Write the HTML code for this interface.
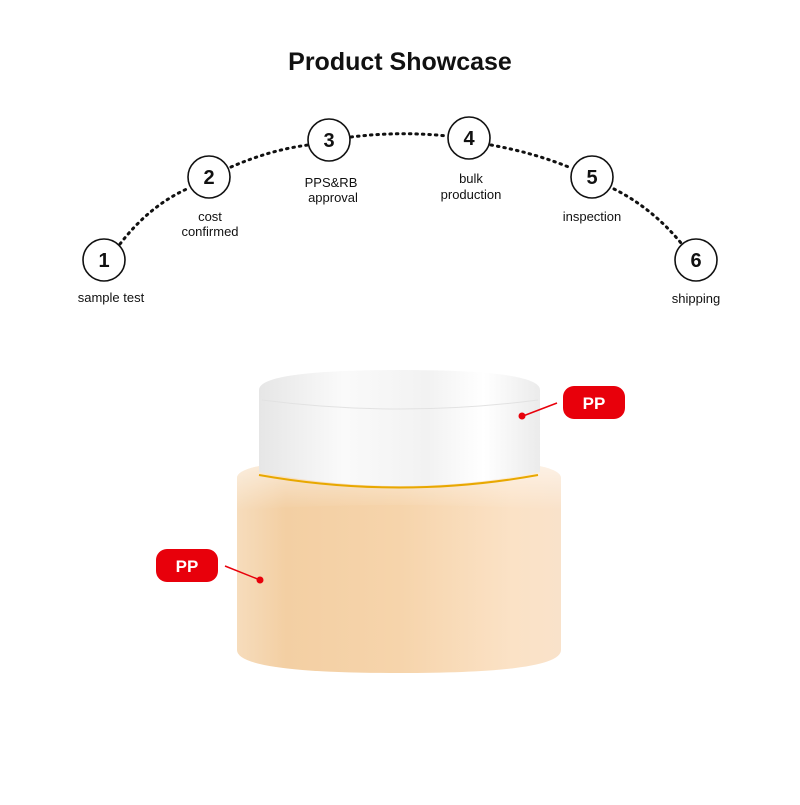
<!DOCTYPE html>
<html><head><style>
body{margin:0;width:800px;height:800px;background:#fff;overflow:hidden;font-family:"Liberation Sans",Arial,sans-serif}
</style></head><body>
<svg width="800" height="800" viewBox="0 0 800 800" xmlns="http://www.w3.org/2000/svg">
<defs>
<linearGradient id="body" x1="0" x2="1">
<stop offset="0" stop-color="#f6dcbc"/><stop offset="0.15" stop-color="#f3cfa3"/><stop offset="0.5" stop-color="#f6d4ab"/><stop offset="0.85" stop-color="#fbe2c6"/><stop offset="1" stop-color="#f9e2ca"/>
</linearGradient>
<linearGradient id="rim" x1="0" y1="0" x2="0" y2="1">
<stop offset="0" stop-color="#fff" stop-opacity="0.6"/><stop offset="1" stop-color="#fff" stop-opacity="0"/>
</linearGradient>
<linearGradient id="lid" x1="0" x2="1">
<stop offset="0" stop-color="#e6e6e6"/><stop offset="0.3" stop-color="#fafafa"/><stop offset="0.6" stop-color="#f2f2f2"/><stop offset="0.8" stop-color="#fff"/><stop offset="1" stop-color="#ebebeb"/>
</linearGradient>
</defs>
<text x="400" y="70" text-anchor="middle" font-size="25" font-weight="bold" fill="#111">Product Showcase</text>
<g fill="none" stroke="#111" stroke-width="3" stroke-dasharray="1.5 5" stroke-linecap="round">
<path d="M120 244 Q150 205 189 188"/>
<path d="M231 167 Q270 150 308 145"/>
<path d="M351 137 Q400 131 447 136"/>
<path d="M491 145 Q535 153 571 168"/>
<path d="M614 189 Q652 208 681 243"/>
</g>
<g fill="#fff" stroke="#111" stroke-width="1.6">
<circle cx="104" cy="260" r="21"/><circle cx="209" cy="177" r="21"/><circle cx="329" cy="140" r="21"/>
<circle cx="469" cy="138" r="21"/><circle cx="592" cy="177" r="21"/><circle cx="696" cy="260" r="21"/>
</g>
<g font-size="20" font-weight="bold" text-anchor="middle" fill="#111">
<text x="104" y="267">1</text><text x="209" y="184">2</text><text x="329" y="147">3</text>
<text x="469" y="145">4</text><text x="592" y="184">5</text><text x="696" y="267">6</text>
</g>
<g font-size="13" text-anchor="middle" fill="#111">
<text x="111" y="302">sample test</text>
<text x="210" y="221">cost</text><text x="210" y="236">confirmed</text>
<text x="331" y="187">PPS&amp;RB</text><text x="333" y="202">approval</text>
<text x="471" y="183">bulk</text><text x="471" y="199">production</text>
<text x="592" y="221">inspection</text>
<text x="696" y="303">shipping</text>
</g>
<path d="M237 478 Q237 458 400 458 Q561 458 561 478 L561 650 Q561 673 400 673 Q237 673 237 650 Z" fill="url(#body)"/>
<path d="M237 478 Q237 458 400 458 Q561 458 561 478 L561 510 Q400 500 237 510 Z" fill="url(#rim)"/>
<path d="M259 475 Q400 500 538 475" fill="none" stroke="#e8a800" stroke-width="2"/>
<path d="M259 390 Q259 370 400 370 Q540 370 540 390 L540 472 Q400 500 259 472 Z" fill="url(#lid)"/>
<path d="M262 400 Q400 418 538 400" fill="none" stroke="#e2e2e2" stroke-width="1"/>
<rect x="563" y="386" width="62" height="33" rx="11" fill="#e8000b"/>
<text x="594" y="409" text-anchor="middle" font-size="17" font-weight="bold" fill="#fff">PP</text>
<line x1="523" y1="416" x2="557" y2="403" stroke="#e8000b" stroke-width="1.5"/>
<circle cx="522" cy="416" r="3.5" fill="#e8000b"/>
<rect x="156" y="549" width="62" height="33" rx="11" fill="#e8000b"/>
<text x="187" y="572" text-anchor="middle" font-size="17" font-weight="bold" fill="#fff">PP</text>
<line x1="225" y1="566" x2="260" y2="580" stroke="#e8000b" stroke-width="1.5"/>
<circle cx="260" cy="580" r="3.5" fill="#e8000b"/>
</svg>
</body></html>
